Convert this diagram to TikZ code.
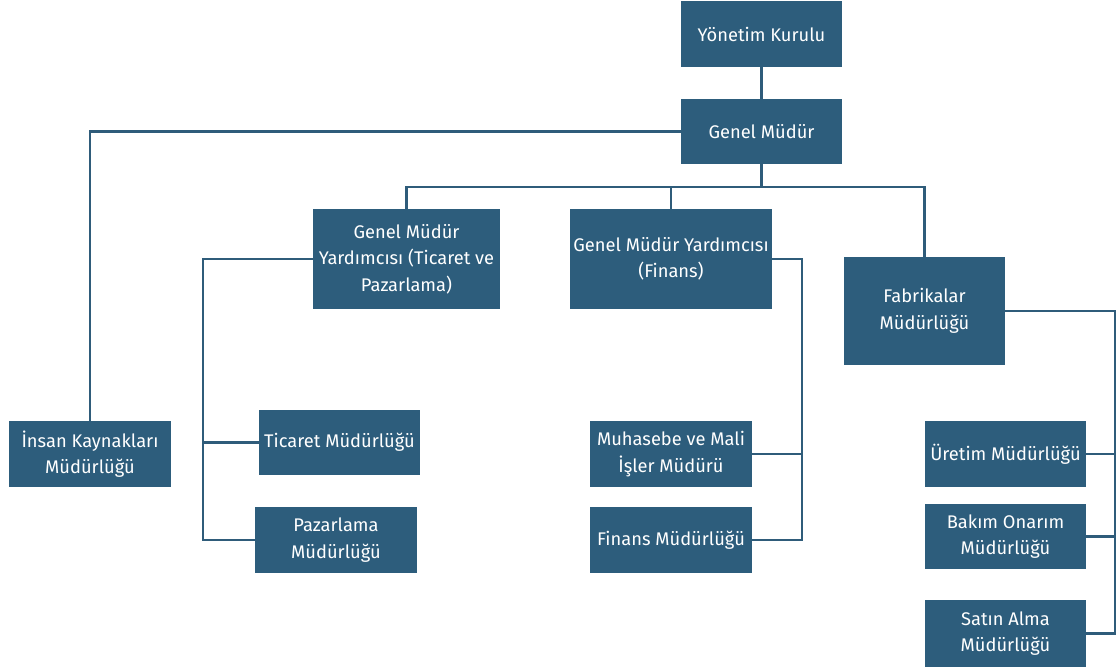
\documentclass[tikz,border=0pt]{standalone}
\usepackage{fontspec}
\setmainfont{Fira Sans}
\definecolor{boxblue}{HTML}{2D5D7C}
\definecolor{lineblue}{HTML}{2F5C7A}
\begin{document}
\begin{tikzpicture}[x=1pt,y=-1pt,
  box/.style={fill=boxblue, text=white, draw=none, inner sep=0pt, align=center,
    font=\fontsize{18.3}{26.5}\selectfont},
  conn/.style={draw=lineblue, line width=2.8pt}]
\useasboundingbox (0,0) rectangle (1117,670);
\fill[white] (0,0) rectangle (1117,670);
% connectors first (beneath boxes)
\coordinate (bus) at (761.5,187);
\coordinate (tx) at (203,0);
\coordinate (fx) at (802,0);
\coordinate (rx) at (1115,0);
% nodes
\node[box, minimum width=161pt, minimum height=66pt] (yk) at (761.5,34) {Yönetim Kurulu};
\node[box, minimum width=161pt, minimum height=65pt] (gm) at (761.5,131.5) {Genel Müdür};
\node[box, minimum width=187pt, minimum height=100pt] (gmyt) at (406.5,259) {Genel Müdür\\Yardımcısı (Ticaret ve\\Pazarlama)};
\node[box, minimum width=202pt, minimum height=100pt] (gmyf) at (671,259) {Genel Müdür Yardımcısı\\(Finans)};
\node[box, minimum width=161pt, minimum height=108pt] (fab) at (924.5,311) {Fabrikalar\\Müdürlüğü};
\node[box, minimum width=162pt, minimum height=66pt] (ik) at (90,454) {İnsan Kaynakları\\Müdürlüğü};
\node[box, minimum width=161pt, minimum height=65pt] (tic) at (339.5,442.5) {Ticaret Müdürlüğü};
\node[box, minimum width=162pt, minimum height=66pt] (paz) at (336,540) {Pazarlama\\Müdürlüğü};
\node[box, minimum width=162pt, minimum height=66pt] (muh) at (671,454) {Muhasebe ve Mali\\İşler Müdürü};
\node[box, minimum width=162pt, minimum height=66pt] (fin) at (671,540) {Finans Müdürlüğü};
\node[box, minimum width=161pt, minimum height=66pt] (ur) at (1005.5,454) {Üretim Müdürlüğü};
\node[box, minimum width=161pt, minimum height=65pt] (bak) at (1005.5,536.5) {Bakım Onarım\\Müdürlüğü};
\node[box, minimum width=161pt, minimum height=67pt] (sat) at (1005.5,633.5) {Satın Alma\\Müdürlüğü};
% connectors
\draw[conn] (yk.south) -- (gm.north);
\draw[conn] (gm.west) -| (ik.north);
\draw[conn] (gm.south) -- (bus);
\draw[conn] (gmyt.north) |- (bus) -| (fab.north);
\draw[conn] (gmyf.north) -- (gmyf.north |- bus);
\draw[conn] (gmyt.west) -| (tx |- paz.west) -- (paz.west);
\draw[conn] (tic.west) -- (tx |- tic.west);
\draw[conn] (gmyf.east) -| (fx |- fin.east) -- (fin.east);
\draw[conn] (muh.east) -- (fx |- muh.east);
\draw[conn] (fab.east) -| (rx |- sat.east) -- (sat.east);
\draw[conn] (ur.east) -- (rx |- ur.east);
\draw[conn] (bak.east) -- (rx |- bak.east);
\end{tikzpicture}
\end{document}
